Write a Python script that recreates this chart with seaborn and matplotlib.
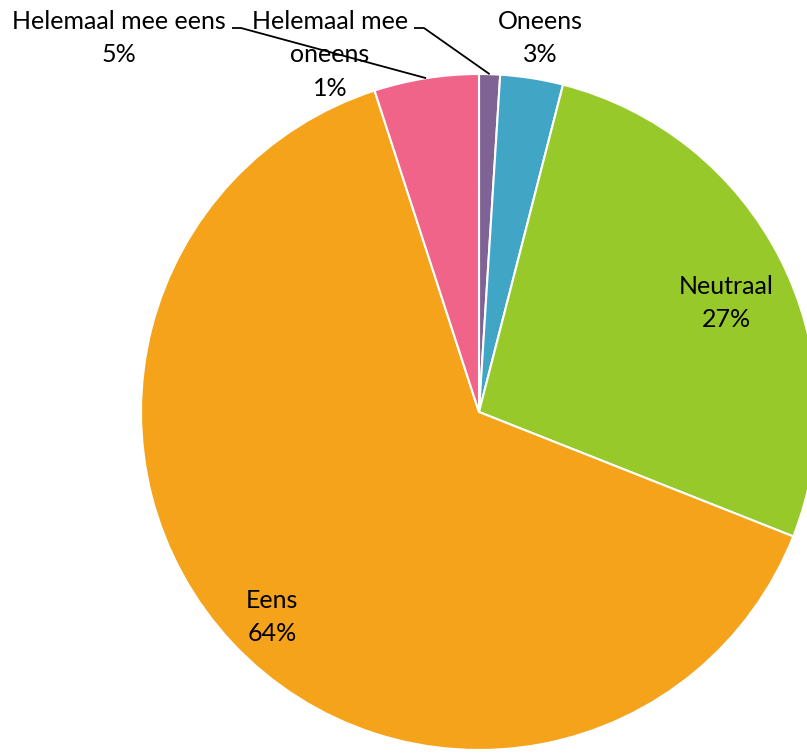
import numpy as np
import matplotlib
matplotlib.use("Agg")
import matplotlib.pyplot as plt
import seaborn as sns

# Survey answers, clockwise from 12 o'clock
categories = ["Helemaal mee oneens", "Oneens", "Neutraal", "Eens", "Helemaal mee eens"]
shares = [1, 3, 27, 64, 5]
display_labels = ["Helemaal mee\noneens", "Oneens", "Neutraal", "Eens", "Helemaal mee eens"]
colors = ["#7F6394", "#41A5C5", "#98C92A", "#F5A31B", "#F0648A"]

sns.set_theme(style="white")
plt.rcParams["font.family"] = ["Lato", "DejaVu Sans"]

W, H = 807, 754
fig = plt.figure(figsize=(W / 100, H / 100), dpi=100)
ax = fig.add_axes([0, 0, 1, 1])


def py(y):
    # pixel row (from top) -> data y
    return H - y


cx, cy, R = 479, py(412), 338
wedges, _ = ax.pie(
    shares,
    colors=colors,
    startangle=90,
    counterclock=False,
    center=(cx, cy),
    radius=R,
    wedgeprops=dict(edgecolor="white", linewidth=1.5),
)
ax.set_xlim(0, W)
ax.set_ylim(0, H)
ax.set_aspect("equal")
ax.axis("off")


def mid_point(w, frac):
    ang = np.deg2rad((w.theta1 + w.theta2) / 2)
    return cx + frac * R * np.cos(ang), cy + frac * R * np.sin(ang)


fs = 18
ls = 1.55
txt = dict(ha="center", va="center", fontsize=fs, color="black", linespacing=ls)

# Label positions (pixel columns / rows from the top-left corner)
label_pos = {
    0: (330, 55),
    1: (540, 38),
    2: (726, 303),
    3: (272, 617),
    4: (119, 38),
}
for i, (x, y) in label_pos.items():
    ax.text(x, py(y), f"{display_labels[i]}\n{shares[i]}%", **txt)

# Leader lines for the two small slices labelled above the pie
for i, (x0, x1) in [(4, (232, 241)), (0, (414, 424))]:
    ex, ey = mid_point(wedges[i], 1.0)
    ax.plot([x0, x1, ex], [py(28), py(28), ey], color="black", linewidth=1.3,
            solid_capstyle="butt")

fig.savefig("out.png", dpi=100, facecolor="white")
